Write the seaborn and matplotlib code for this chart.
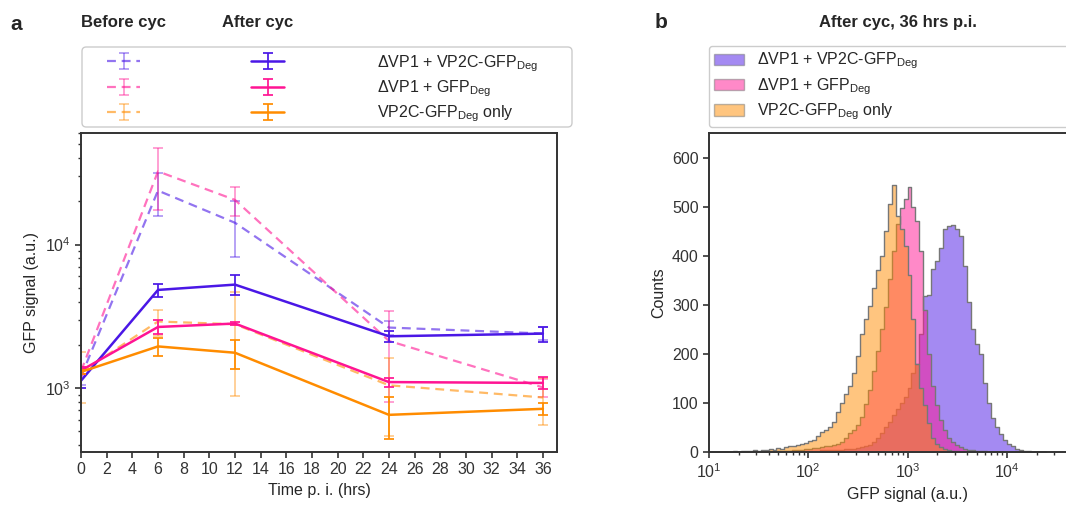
import numpy as np
import seaborn as sns
import matplotlib.pyplot as plt
from matplotlib.lines import Line2D
from matplotlib.patches import Patch, FancyBboxPatch
from matplotlib.container import ErrorbarContainer
from matplotlib.legend_handler import HandlerTuple

# ---------------- data ---------------- #
time_hrs = [0, 6, 12, 24, 36]
constructs = [
    "ΔVP1 + VP2C-GFP$_\\mathregular{Deg}$",
    "ΔVP1 + GFP$_\\mathregular{Deg}$",
    "VP2C-GFP$_\\mathregular{Deg}$ only",
]

# GFP signal (a.u.), mean and sd per time point
vp2c_before_mean = [1200, 23800, 14200, 2640, 2400]
vp2c_before_sd = [150, 8000, 6000, 300, 250]
gfp_before_mean = [1310, 32400, 20500, 2130, 1010]
gfp_before_sd = [100, 15000, 4700, 1330, 150]
only_before_mean = [1290, 2910, 2785, 1045, 859]
only_before_sd = [500, 600, 1900, 580, 310]

vp2c_after_mean = [1125, 4830, 5260, 2295, 2395]
vp2c_after_sd = [125, 500, 840, 200, 290]
gfp_after_mean = [1325, 2665, 2816, 1100, 1085]
gfp_after_sd = [80, 300, 80, 80, 100]
only_after_mean = [1295, 1950, 1762, 650, 716]
only_after_sd = [50, 270, 400, 210, 70]

# histogram counts, 25 log bins per decade from 10^1 to 10^4.4
vp2c_counts = [0, 0, 1, 0, 0, 0, 1, 0, 0, 1,
               0, 1, 1, 0, 1, 1, 1, 2, 1, 2,
               2, 2, 2, 3, 3, 3, 3, 3, 4, 4,
               4, 4, 5, 5, 6, 6, 7, 8, 10, 12,
               15, 20, 28, 38, 50, 62, 75, 88, 100, 112,
               130, 160, 180, 240, 318, 320, 372, 390, 415, 455,
               460, 462, 455, 440, 380, 305, 250, 220, 200, 140,
               100, 70, 50, 36, 25, 17, 12, 7, 4, 3,
               2, 1, 1, 0, 0]
gfp_counts = [0, 0, 0, 0, 0, 1, 0, 0, 1, 0,
              1, 1, 0, 1, 1, 2, 1, 2, 2, 3,
              3, 4, 4, 5, 6, 7, 8, 9, 10, 12,
              13, 14, 16, 20, 28, 39, 45, 55, 72, 98,
              127, 165, 205, 250, 295, 352, 410, 465, 498, 515,
              540, 500, 470, 410, 290, 200, 134, 95, 65, 45,
              28, 20, 14, 10, 7, 5, 4, 3, 2, 2,
              1, 1, 0, 1, 0, 0, 0, 0, 0, 0,
              0, 0, 0, 0, 0]
only_counts = [1, 0, 1, 0, 1, 1, 2, 1, 2, 3,
               3, 4, 3, 5, 4, 6, 5, 8, 7, 10,
               12, 13, 15, 17, 19, 22, 24, 32, 40, 44,
               50, 62, 82, 100, 118, 134, 160, 195, 240, 270,
               297, 335, 370, 400, 450, 505, 545, 480, 455, 420,
               360, 270, 180, 130, 95, 60, 28, 16, 10, 6,
               4, 3, 2, 1, 1, 1, 0, 1, 0, 0,
               0, 0, 0, 0, 0, 0, 0, 0, 0, 0,
               0, 0, 0, 0, 0]

col_purple = "#4a17e6"
col_pink = "#ff1493"
col_orange = "#ff8c00"
colors = [col_purple, col_pink, col_orange]

# ---------------- style ---------------- #
sns.set_theme(style="ticks")
plt.rcParams["font.family"] = ["Liberation Sans", "DejaVu Sans"]
plt.rcParams["font.size"] = 11.5
plt.rcParams["axes.edgecolor"] = "#333333"
plt.rcParams["axes.linewidth"] = 1.4
plt.rcParams["xtick.color"] = "#333333"
plt.rcParams["ytick.color"] = "#333333"
plt.rcParams["xtick.labelsize"] = 11.5
plt.rcParams["ytick.labelsize"] = 11.5

W, H = 1066, 508
fs = 11.5
em = fs * 100 / 72  # pixels per em
fig = plt.figure(figsize=(W / 100, H / 100), dpi=100)

# ---------------- panel a ---------------- #
ax_a = fig.add_axes([81 / W, 1 - 452 / H, 476 / W, 319 / H])
ax_a.set_yscale("log")

before = [(vp2c_before_mean, vp2c_before_sd), (gfp_before_mean, gfp_before_sd),
          (only_before_mean, only_before_sd)]
after = [(vp2c_after_mean, vp2c_after_sd), (gfp_after_mean, gfp_after_sd),
         (only_after_mean, only_after_sd)]
dash = (0, (4, 2.6))


def draw_series(m, s, col, alpha, bar_alpha, lw, ls):
    sns.lineplot(x=time_hrs, y=m, color=col, alpha=alpha, lw=lw, linestyle=ls,
                 ax=ax_a, legend=False)
    eb = ax_a.errorbar(time_hrs, m, yerr=s, fmt="none", ecolor=col, alpha=bar_alpha,
                       elinewidth=1.25, capsize=3.5, capthick=1.25)
    proxy = Line2D([], [], color=col, alpha=alpha, lw=lw, linestyle=ls)
    return ErrorbarContainer((proxy, eb.lines[1], eb.lines[2]),
                             has_xerr=False, has_yerr=True)


h_before = [draw_series(m, s, c, 0.6, 0.45, 1.6, dash) for (m, s), c in zip(before, colors)]
h_after = [draw_series(m, s, c, 1.0, 1.0, 1.8, "-") for (m, s), c in zip(after, colors)]
handles = list(zip(h_before, h_after))

ax_a.set_xlim(0, 37.1)
ax_a.set_ylim(358, 60000)
ax_a.set_xticks(range(0, 37, 2))
ax_a.set_xlabel("Time p. i. (hrs)", fontsize=fs)
ax_a.set_ylabel("GFP signal (a.u.)", fontsize=fs)
ax_a.tick_params(which="major", direction="out", length=4, width=1.2)
ax_a.tick_params(which="minor", direction="out", length=2.5, width=1)

fig.legend(handles, constructs,
           handler_map={tuple: HandlerTuple(ndivide=None, pad=111 / em)},
           loc="upper left", bbox_to_anchor=(107 / W, 1 - 53 / H),
           frameon=False, borderpad=0, borderaxespad=0, fontsize=fs,
           handlelength=177 / em, handletextpad=93 / em, labelspacing=0.3)
fig.patches.append(FancyBboxPatch((82 / W, 1 - 127 / H), 490 / W, 80 / H,
                                  boxstyle="round,pad=0,rounding_size=0.004",
                                  mutation_aspect=W / H, transform=fig.transFigure,
                                  facecolor="none", edgecolor="#cccccc", lw=1))

fig.text(10 / W, 1 - 24 / H, "a", fontsize=15, fontweight="bold", va="center")
fig.text(81 / W, 1 - 22 / H, "Before cyc", fontsize=12, fontweight="bold", va="center")
fig.text(222 / W, 1 - 22 / H, "After cyc", fontsize=12, fontweight="bold", va="center")

# ---------------- panel b ---------------- #
ax_b = fig.add_axes([709 / W, 1 - 452 / H, 397 / W, 319 / H])
edges = np.linspace(1.0, 4.4, 86)
centers = 10 ** ((edges[:-1] + edges[1:]) / 2)
for counts, col in zip([vp2c_counts, gfp_counts, only_counts], colors):
    sns.histplot(x=centers, weights=counts, bins=edges.tolist(), log_scale=True,
                 element="step", fill=True, color=col, alpha=0.5,
                 edgecolor="#777777", linewidth=1, ax=ax_b)

ax_b.set_xlim(10, 1e5)
ax_b.set_xticks([10, 100, 1000, 10000])
ax_b.set_ylim(0, 650)
ax_b.set_yticks(range(0, 601, 100))
ax_b.set_xlabel("GFP signal (a.u.)", fontsize=fs)
ax_b.set_ylabel("Counts", fontsize=fs)
ax_b.tick_params(which="major", direction="out", length=4, width=1.2)
ax_b.tick_params(which="minor", direction="out", length=2.5, width=1)

patches = [Patch(facecolor=col, alpha=0.5, edgecolor="#777777") for col in colors]
ax_b.legend(patches, constructs, loc="lower left",
            bbox_to_anchor=(0, 1 + 6 / 319, 1, 0.2),
            mode="expand", borderaxespad=0, fontsize=fs, handlelength=1.9,
            handletextpad=0.8, labelspacing=0.3, borderpad=0.3,
            fancybox=True, edgecolor="#cccccc", framealpha=1)

fig.text(655 / W, 1 - 22 / H, "b", fontsize=15, fontweight="bold", va="center")
fig.text(898 / W, 1 - 22 / H, "After cyc, 36 hrs p.i.", fontsize=12,
         fontweight="bold", va="center", ha="center")

fig.savefig("out.png", dpi=100)
